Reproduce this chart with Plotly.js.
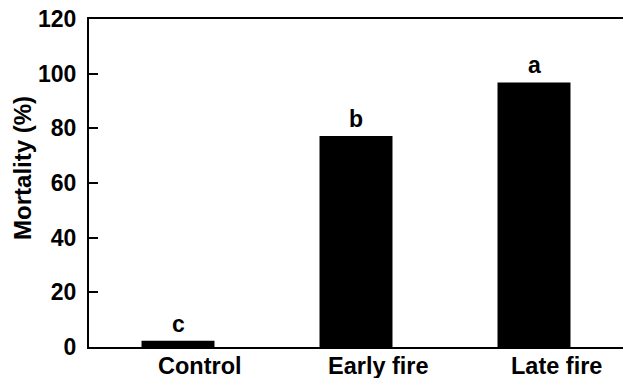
<!DOCTYPE html>
<html>
<head>
<meta charset="utf-8">
<script src="https://cdn.plot.ly/plotly-3.0.1.min.js"></script>
<style>html,body{margin:0;padding:0;background:#fff;}#chart{width:623px;height:378px;}</style>
</head>
<body>
<div id="chart"></div>
<script>
const categories = ["Control", "Early fire", "Late fire"];
const mortality = [2.3, 77.2, 96.8];
const letters = ["c", "b", "a"];
const yTicks = [0, 20, 40, 60, 80, 100, 120];
const yTitle = "Mortality (%)";

const FONT = "Arial, 'Liberation Sans', sans-serif";

const trace = {
  type: "bar",
  x: categories,
  y: mortality,
  width: 0.41,
  marker: {color: "#000000", line: {width: 0}},
  hoverinfo: "skip"
};

// significance letters above bars
const annotations = categories.map((c, i) => ({
  x: c, y: mortality[i], xref: "x", yref: "y",
  text: "<b>" + letters[i] + "</b>",
  showarrow: false, yanchor: "bottom", yshift: 2,
  font: {family: FONT, size: 23, color: "#000"}
}));

// category labels (offset to the right of the bars, as in the original)
categories.forEach((c) => {
  annotations.push({
    x: c, xref: "x", xanchor: "center", xshift: 22,
    y: 0, yref: "paper", yanchor: "top", yshift: -4,
    text: "<b>" + c + "</b>",
    showarrow: false,
    font: {family: FONT, size: 23.5, color: "#000"}
  });
});

// y axis title
annotations.push({
  x: 0, xref: "paper", xanchor: "center", xshift: -66,
  y: 0.546, yref: "paper", yanchor: "middle",
  text: "<b>" + yTitle + "</b>", textangle: -90,
  showarrow: false,
  font: {family: FONT, size: 24, color: "#000"}
});

const layout = {
  width: 623, height: 378,
  margin: {l: 89, r: 0, t: 19, b: 31, pad: 0},
  paper_bgcolor: "#fff", plot_bgcolor: "#fff",
  showlegend: false,
  font: {family: FONT, color: "#000"},
  xaxis: {
    range: [-0.5, 2.5],
    showline: true, linecolor: "#000", linewidth: 2, mirror: true,
    ticks: "", showgrid: false, zeroline: false,
    showticklabels: false
  },
  yaxis: {
    range: [0, 120],
    tickvals: yTicks, ticktext: yTicks.map(String),
    showline: true, linecolor: "#000", linewidth: 2,
    ticks: "inside", ticklen: 9, tickwidth: 2, tickcolor: "#000",
    showgrid: false, zeroline: false,
    ticklabelstandoff: 6,
    tickfont: {family: FONT, size: 23, color: "#000", weight: "bold"}
  },
  annotations: annotations
};

Plotly.newPlot("chart", [trace], layout, {staticPlot: true, displayModeBar: false});
</script>
</body>
</html>
